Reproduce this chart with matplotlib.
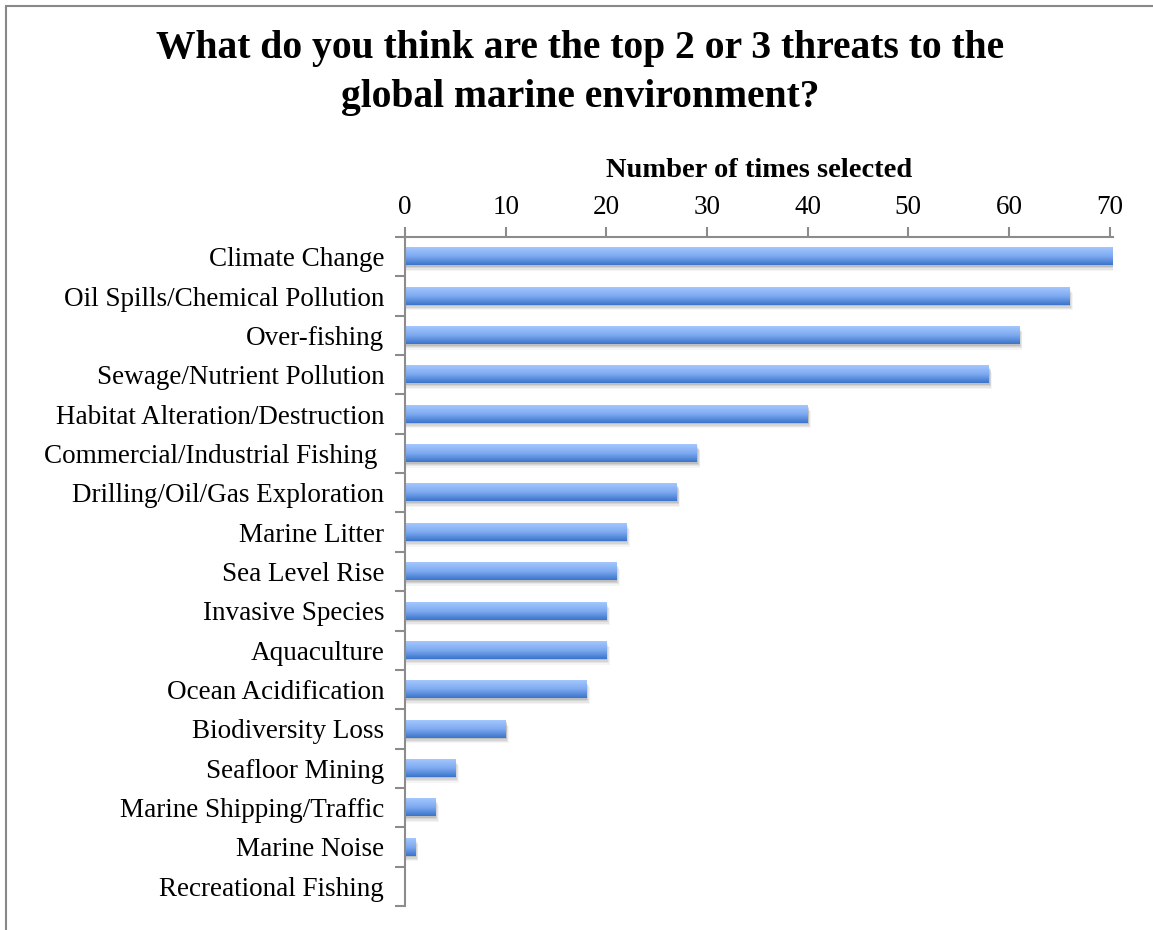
import matplotlib
matplotlib.use("Agg")
import matplotlib.pyplot as plt
import numpy as np
from matplotlib.patches import Rectangle
from matplotlib.colors import LinearSegmentedColormap

categories = [
    "Climate Change", "Oil Spills/Chemical Pollution", "Over-fishing",
    "Sewage/Nutrient Pollution", "Habitat Alteration/Destruction",
    "Commercial/Industrial Fishing ", "Drilling/Oil/Gas Exploration",
    "Marine Litter", "Sea Level Rise", "Invasive Species", "Aquaculture",
    "Ocean Acidification", "Biodiversity Loss", "Seafloor Mining",
    "Marine Shipping/Traffic", "Marine Noise", "Recreational Fishing",
]
values = [71, 66, 61, 58, 40, 29, 27, 22, 21, 20, 20, 18, 10, 5, 3, 1, 0]
xticks = [0, 10, 20, 30, 40, 50, 60, 70]

title = "What do you think are the top 2 or 3 threats to the\nglobal marine environment?"
xlabel = "Number of times selected"

plt.rcParams['font.family'] = ['Liberation Serif', 'DejaVu Serif']

W, H = 1153, 930
fig = plt.figure(figsize=(W / 100, H / 100), dpi=100)
ax = fig.add_axes([405 / W, 1 - 906 / H, (1113 - 405) / W, (906 - 237) / H])

n = len(categories)
pos = np.arange(n)
bh = 0.44
xmax = 70.33

cmap = LinearSegmentedColormap.from_list("g", ["#a3c7fd", "#7eaaf0", "#3a74cb"])
grad = np.linspace(0, 1, 64).reshape(-1, 1)

for p, v in zip(pos, values):
    if v <= 0:
        continue
    ve = min(v, xmax)
    for k, a in enumerate([0.10, 0.08, 0.06, 0.04]):
        off = 0.04 + k * 0.035
        ax.add_patch(Rectangle((0, p - bh / 2 + off), ve + 0.1 + k * 0.08, bh,
                               facecolor="#000000", alpha=a, edgecolor="none",
                               zorder=1, clip_on=True))
    ax.imshow(grad, extent=[0, ve, p + bh / 2, p - bh / 2], aspect="auto",
              cmap=cmap, zorder=2, interpolation="bilinear")

ax.set_xlim(0, xmax)
ax.set_ylim(n - 0.5, -0.5)

ax.xaxis.tick_top()
ax.xaxis.set_label_position("top")
ax.set_xticks(xticks)
ax.set_xticklabels([str(t) for t in xticks], fontsize=19.5)
ax.set_xlabel(xlabel, fontsize=20.5, fontweight="bold", labelpad=13)

ax.set_yticks(pos)
ax.set_yticklabels(categories, fontsize=19.5)
ax.set_yticks(np.arange(n + 1) - 0.5, minor=True)
ax.tick_params(axis="y", which="major", length=0, pad=15)
ax.tick_params(axis="y", which="minor", length=7, width=1.5, color="#8c8c8c")
ax.tick_params(axis="x", which="major", length=7, width=1.5, color="#8c8c8c", pad=5)

for s in ["right", "bottom"]:
    ax.spines[s].set_visible(False)
for s in ["left", "top"]:
    ax.spines[s].set_color("#8c8c8c")
    ax.spines[s].set_linewidth(1.5)

fig.text(580 / W, 1 - 73 / H, title, ha="center", va="center", fontsize=28.5,
         fontweight="bold", linespacing=1.42)

fig.add_artist(Rectangle((6 / W, -0.1), 1.2, 1 - 6 / H + 0.1, transform=fig.transFigure,
                         facecolor="none", edgecolor="#888888", linewidth=1.5))

fig.savefig("out.png", dpi=100, facecolor="white")
